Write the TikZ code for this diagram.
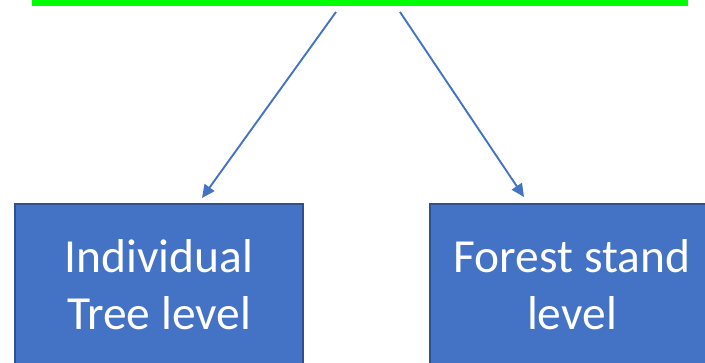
\documentclass[tikz,border=0pt]{standalone}
\usepackage{fontspec}
\setmainfont{Carlito}
\usetikzlibrary{arrows.meta}
\definecolor{boxfill}{HTML}{4472C4}
\definecolor{boxline}{HTML}{2F528F}
\definecolor{barcol}{HTML}{00FF00}
\tikzset{
  levelbox/.style={rectangle, fill=boxfill, draw=boxline, line width=1.2pt, text=white,
    align=center, inner sep=0pt},
  lbl/.style={text=white, align=center, inner sep=0pt, font=\fontsize{47.5}{57}\selectfont},
  conn/.style={draw=boxfill, line width=1.9pt, -{Triangle[length=13pt,width=12pt]}},
  bar/.style={rectangle, fill=barcol, inner sep=0pt}
}
\begin{document}
\begin{tikzpicture}[x=1pt,y=1pt]
\useasboundingbox (0,0) rectangle (705,363);
\clip (0,0) rectangle (705,363);
\node[bar, minimum width=656pt, minimum height=6pt] (top) at (360,360) {};
\node[levelbox, minimum width=288pt, minimum height=172pt] (left) at (159,73) {};
\node[levelbox, minimum width=284pt, minimum height=172pt] (right) at (572,73) {};
\node[lbl] (lt) at (159,78) {Individual\\Tree level};
\node[lbl] (rt) at (572,78) {Forest stand\\level};
\coordinate (s1) at (336,351);
\coordinate (e1) at (202,165);
\coordinate (s2) at (400,351);
\coordinate (e2) at (524,166);
\draw[conn] (s1) -- (e1);
\draw[conn] (s2) -- (e2);
\end{tikzpicture}
\end{document}
